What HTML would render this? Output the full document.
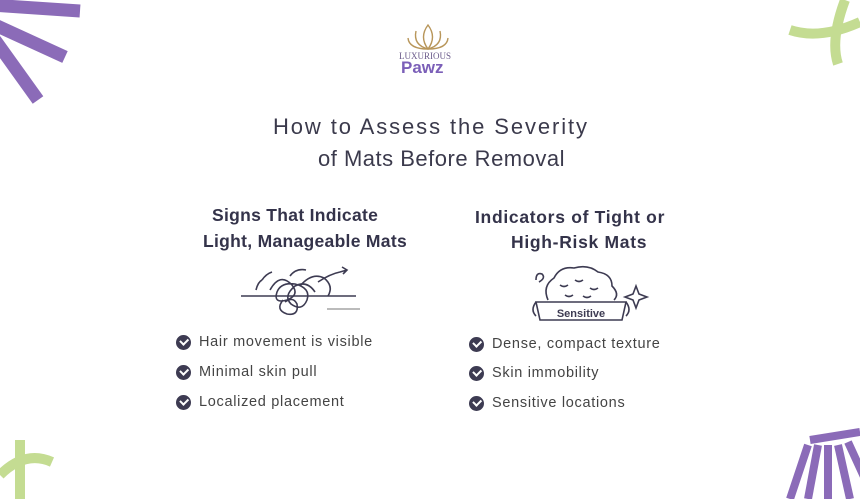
<!DOCTYPE html>
<html><head><style>
body{margin:0;width:860px;height:499px;background:#fff;overflow:hidden;position:relative;font-family:"Liberation Sans",sans-serif;color:#3b3a4c}
.t{position:absolute;white-space:nowrap}
.h{font-size:22px;color:#3b3a4c}
.s{font-size:17.5px;font-weight:bold;color:#34334a;letter-spacing:0.3px}
.li{font-size:14.5px;color:#444;letter-spacing:0.7px}
.ck{position:absolute;width:15px;height:15px;border-radius:50%;background:#3d3b52}
.ck:after{content:"";position:absolute;left:4px;top:3px;width:6px;height:3.5px;border-left:2px solid #fff;border-bottom:2px solid #fff;transform:rotate(-45deg)}
</style></head><body>
<svg width="860" height="499" style="position:absolute;left:0;top:0">
<g stroke="#8b6bb8" stroke-width="13" fill="none">
<line x1="-10" y1="5" x2="80" y2="11"/>
<line x1="-5" y1="25" x2="65" y2="57"/>
<line x1="-5" y1="40" x2="38" y2="100"/>
</g>
<g stroke="#c4dc92" stroke-width="10" fill="none">
<path d="M790 30 Q820 40 860 22"/>
<path d="M845 0 Q830 40 838 64"/>
</g>
<g stroke="#c4dc92" stroke-width="10" fill="none">
<path d="M20 440 L20 499"/>
<path d="M0 475 Q25 450 52 462"/>
</g>
<g stroke="#8b6bb8" stroke-width="8" fill="none">
<path d="M810 440 L860 432"/>
<line x1="808" y1="445" x2="790" y2="499"/>
<line x1="818" y1="445" x2="808" y2="499"/>
<line x1="828" y1="445" x2="828" y2="499"/>
<line x1="838" y1="445" x2="850" y2="499"/>
<line x1="848" y1="442" x2="870" y2="490"/>
</g>
<g stroke="#b8965a" stroke-width="1.4" fill="none">
<path d="M428 25 Q419 37 428 49 Q437 37 428 25Z"/>
<path d="M428 49 Q413 45 416 31"/><path d="M428 49 Q443 45 440 31"/>
<path d="M428 49 Q409 49 408 38"/><path d="M428 49 Q447 49 448 38"/>
</g>
<g stroke="#3d3b52" stroke-width="1.6" fill="none">
<line x1="241" y1="296" x2="356" y2="296"/>
<path d="M270 290 q10-18 22-5 q8 10-5 15 q-14 4-10-8 q4-10 18-8 q16 4 12 16 q-5 12-16 4 q-8-8 4-18 q12-6 20 6"/>
<path d="M283 300 q-8 10 4 14 q12 2 10-10 q-4-8-12-2"/>
<path d="M300 286 q12-14 24-8 q10 8 4 18"/>
<path d="M290 276 q6-8 16-6"/>
<path d="M318 282 q12-8 22-10 l7-2 m-5-3 l5 3 l-4 4"/>
<path d="M262 280 q4-6 10-8"/><path d="M256 290 q2-8 6-10"/>
<line x1="327" y1="309" x2="360" y2="309" stroke="#bbb" stroke-width="2"/>
</g>
<g stroke="#3d3b52" stroke-width="1.6" fill="none">
<path d="M548 300 q-6-14 6-22 q6-12 20-10 q14-4 24 4 q14 2 14 14 q8 8 2 14"/>
<path d="M560 285 q4 3 8 0 M575 280 q4 3 8 0 M590 288 q4 3 8 0 M565 295 q4 3 8 0 M583 296 q4 3 8 0"/>
<path d="M536 302 L626 302 L622 320 L540 320 Z"/>
<path d="M536 302 q-6 8 0 14 M626 302 q6 8 0 14"/>
<path d="M636 286 l3 8 l8 3 l-8 3 l-3 8 l-3-8 l-8-3 l8-3z"/>
<path d="M536 280 q0-8 6-6 q4 4-3 8"/>
</g>
<text x="581" y="317" font-size="11" font-weight="bold" fill="#3d3b52" text-anchor="middle" font-family="Liberation Sans">Sensitive</text>
</svg>
<div class="t" style="left:399px;top:51px;font-size:9px;color:#6a5a8a;font-family:'Liberation Serif',serif">LUXURIOUS</div>
<div class="t" style="left:401px;top:58px;font-size:17px;font-weight:bold;color:#7b5fb8">Pawz</div>
<div class="t h" style="left:273px;top:114px;letter-spacing:1.9px">How to Assess the Severity</div>
<div class="t h" style="left:318px;top:146px;letter-spacing:0.5px">of Mats Before Removal</div>
<div class="t s" style="left:212px;top:205px">Signs That Indicate</div>
<div class="t s" style="left:203px;top:231px">Light, Manageable Mats</div>
<div class="t s" style="left:475px;top:207px;letter-spacing:0.7px">Indicators of Tight or</div>
<div class="t s" style="left:511px;top:232px;letter-spacing:0.7px">High-Risk Mats</div>
<div class="ck" style="left:176px;top:335px"></div><div class="t li" style="left:199px;top:334px">Hair movement is visible</div>
<div class="ck" style="left:176px;top:365px"></div><div class="t li" style="left:199px;top:364px">Minimal skin pull</div>
<div class="ck" style="left:176px;top:395px"></div><div class="t li" style="left:199px;top:394px">Localized placement</div>
<div class="ck" style="left:469px;top:337px"></div><div class="t li" style="left:492px;top:336px">Dense, compact texture</div>
<div class="ck" style="left:469px;top:366px"></div><div class="t li" style="left:492px;top:365px">Skin immobility</div>
<div class="ck" style="left:469px;top:396px"></div><div class="t li" style="left:492px;top:395px">Sensitive locations</div>
</body></html>
